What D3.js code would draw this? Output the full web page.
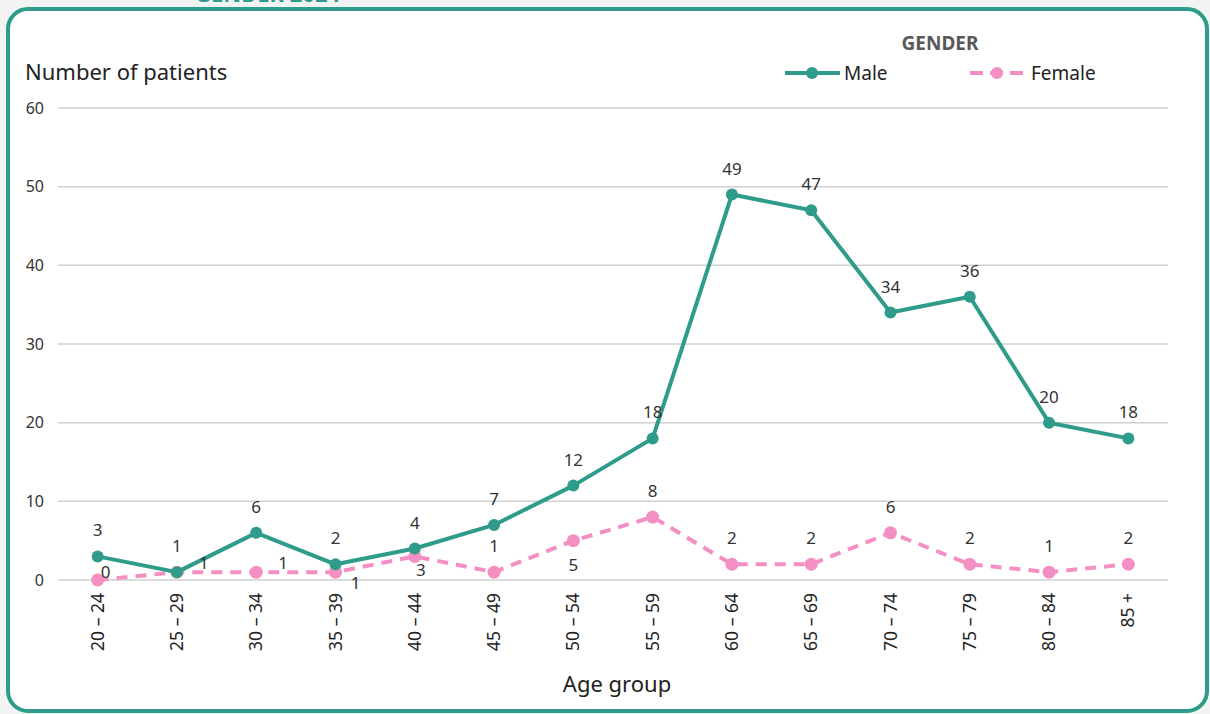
<!DOCTYPE html>
<html>
<head>
<meta charset="utf-8">
<script src="https://cdn.jsdelivr.net/npm/d3@7"></script>
<style>
  body { margin: 0; background: #f2f3f3; }
  svg { display: block; font-family: "Noto Sans", "Open Sans", sans-serif; }
</style>
</head>
<body>
<svg id="chart" width="1210" height="714"></svg>
<script>
// data
const ageGroups = ["20 – 24", "25 – 29", "30 – 34", "35 – 39", "40 – 44", "45 – 49", "50 – 54",
  "55 – 59", "60 – 64", "65 – 69", "70 – 74", "75 – 79", "80 – 84", "85 +"];
const male = [3, 1, 6, 2, 4, 7, 12, 18, 49, 47, 34, 36, 20, 18];
const female = [0, 1, 1, 1, 3, 1, 5, 8, 2, 2, 6, 2, 1, 2];
const yTicks = [0, 10, 20, 30, 40, 50, 60];
// where the label sits relative to each point
const femaleLabelPos = ["aboveRight", "right", "right", "belowRight", "belowNear", "above", "below",
  "above", "above", "above", "above", "above", "above", "above"];

const teal = "#2f9c8b", pink = "#f48fc4";

const svg = d3.select("#chart");

// card background and border
svg.append("rect").attr("x", 8).attr("y", 9).attr("width", 1199).attr("height", 702)
  .attr("rx", 20).attr("fill", "#fff").attr("stroke", teal).attr("stroke-width", 4);

// clipped heading above the card
svg.append("text").attr("x", 195).attr("y", 2).attr("fill", teal)
  .attr("font-weight", "bold").attr("font-size", 22).text("GENDER 2024");

const x = d3.scaleBand().domain(ageGroups).range([58, 1168]);
const y = d3.scaleLinear().domain([0, 60]).range([580, 108]);
const cx = d => x(d) + x.bandwidth() / 2;

// gridlines
svg.append("g").selectAll("line").data(yTicks).join("line")
  .attr("x1", 58).attr("x2", 1168)
  .attr("y1", d => y(d)).attr("y2", d => y(d))
  .attr("stroke", "#d0d0d0").attr("stroke-width", 1.5);

// y axis
const yAxis = svg.append("g").attr("transform", "translate(44,0)")
  .call(d3.axisLeft(y).tickValues(yTicks).tickSize(0).tickPadding(0));
yAxis.select(".domain").remove();
yAxis.selectAll("text").style("font-size", "16px").style("fill", "#333")
  .style("font-family", "Noto Sans, sans-serif");

// x axis
const xAxis = svg.append("g").attr("transform", "translate(0,593)")
  .call(d3.axisBottom(x).tickSize(0).tickPadding(0));
xAxis.select(".domain").remove();
xAxis.selectAll("text")
  .style("font-size", "17.5px").style("fill", "#222").style("font-family", "Noto Sans, sans-serif")
  .attr("transform", "rotate(-90)")
  .attr("text-anchor", "end").attr("dx", "0").attr("dy", "0.35em").attr("y", 0);

// titles
svg.append("text").attr("x", 25).attr("y", 80).attr("font-size", 22).attr("fill", "#222")
  .text("Number of patients");
svg.append("text").attr("x", 617).attr("y", 692).attr("text-anchor", "middle")
  .attr("font-size", 22).attr("fill", "#222").text("Age group");

// lines
const line = d3.line().x((d, i) => cx(ageGroups[i])).y(d => y(d));

svg.append("path").datum(female).attr("d", line).attr("fill", "none")
  .attr("stroke", pink).attr("stroke-width", 4).attr("stroke-dasharray", "11,8");
svg.append("g").selectAll("circle").data(female).join("circle")
  .attr("cx", (d, i) => cx(ageGroups[i])).attr("cy", d => y(d)).attr("r", 6.5).attr("fill", pink);

svg.append("path").datum(male).attr("d", line).attr("fill", "none")
  .attr("stroke", teal).attr("stroke-width", 4).attr("stroke-linejoin", "round");
svg.append("g").selectAll("circle").data(male).join("circle")
  .attr("cx", (d, i) => cx(ageGroups[i])).attr("cy", d => y(d)).attr("r", 6).attr("fill", teal);

// data labels
svg.append("g").selectAll("text").data(male).join("text")
  .attr("x", (d, i) => cx(ageGroups[i])).attr("y", d => y(d) - 20)
  .attr("text-anchor", "middle").attr("font-size", 17).attr("fill", "#333").text(d => d);

const offsets = {
  above: [0, -20], below: [0, 30], belowNear: [6, 20], right: [27, -3],
  aboveRight: [8, -2], belowRight: [20, 17]
};
svg.append("g").selectAll("text").data(female).join("text")
  .attr("x", (d, i) => cx(ageGroups[i]) + offsets[femaleLabelPos[i]][0])
  .attr("y", (d, i) => y(d) + offsets[femaleLabelPos[i]][1])
  .attr("text-anchor", "middle").attr("font-size", 17).attr("fill", "#333").text(d => d);

// legend
svg.append("text").attr("x", 940).attr("y", 50).attr("text-anchor", "middle")
  .attr("font-size", 19).attr("font-weight", "bold").attr("fill", "#595959").text("GENDER");

const legend = [
  { name: "Male", color: teal, dash: null, x: 785 },
  { name: "Female", color: pink, dash: "13,7", x: 970 }
];
const lg = svg.append("g").selectAll("g").data(legend).join("g")
  .attr("transform", d => `translate(${d.x},73)`);
lg.append("line").attr("x1", 0).attr("x2", 55).attr("stroke", d => d.color)
  .attr("stroke-width", 4).attr("stroke-dasharray", d => d.dash);
lg.append("circle").attr("cx", 27).attr("r", 6).attr("fill", d => d.color);
lg.append("text").attr("x", d => d.name === "Male" ? 59 : 61).attr("y", 7)
  .attr("font-size", 19).attr("fill", "#222").text(d => d.name);
</script>
</body>
</html>
